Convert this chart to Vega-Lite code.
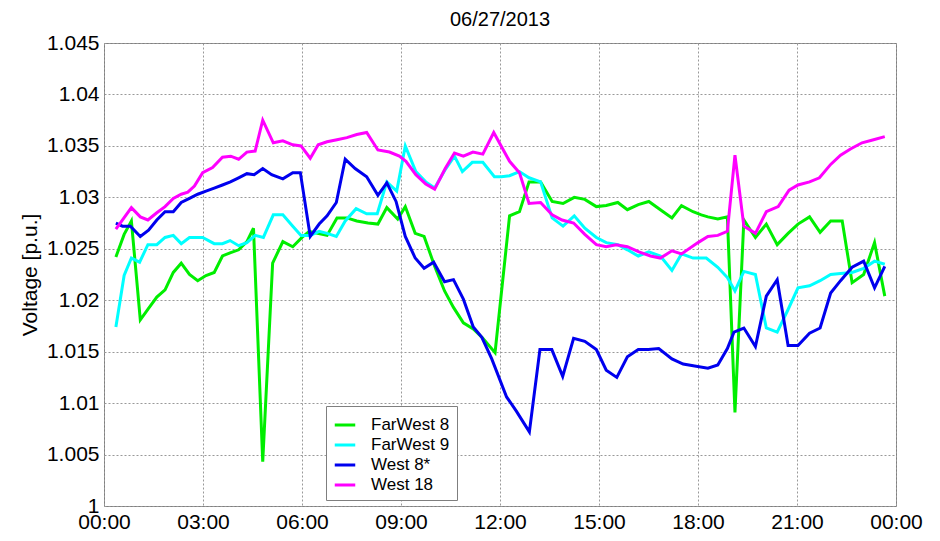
{
  "$schema": "https://vega.github.io/schema/vega-lite/v6.json",
  "width": 792,
  "height": 463,
  "autosize": {"type": "none"},
  "padding": {"left": 104, "top": 43, "right": 44, "bottom": 35},
  "background": "white",
  "title": {"text": "06/27/2013", "fontSize": 20, "font": "Liberation Sans", "fontWeight": "normal", "color": "#000", "offset": 2, "anchor": "middle"},
  "config": {
    "font": "Liberation Sans",
    "view": {"stroke": "#7f7f7f", "strokeWidth": 1}
  },
  "datasets": {
    "fw8": [{"t":0.36,"v":1.0242},{"t":0.61,"v":1.0264},{"t":0.83,"v":1.0277},{"t":1.10,"v":1.0181},{"t":1.35,"v":1.0192},{"t":1.60,"v":1.0203},{"t":1.85,"v":1.0210},{"t":2.10,"v":1.0227},{"t":2.34,"v":1.0236},{"t":2.59,"v":1.0225},{"t":2.84,"v":1.0219},{"t":3.09,"v":1.0224},{"t":3.34,"v":1.0227},{"t":3.59,"v":1.0243},{"t":3.82,"v":1.0246},{"t":4.08,"v":1.0249},{"t":4.33,"v":1.0257},{"t":4.53,"v":1.0270},{"t":4.81,"v":1.0043},{"t":5.11,"v":1.0236},{"t":5.42,"v":1.0257},{"t":5.72,"v":1.0252},{"t":6.0,"v":1.0261},{"t":6.22,"v":1.0267},{"t":6.47,"v":1.0265},{"t":6.76,"v":1.0263},{"t":7.06,"v":1.0280},{"t":7.36,"v":1.0280},{"t":7.66,"v":1.0277},{"t":8.0,"v":1.0275},{"t":8.3,"v":1.0274},{"t":8.57,"v":1.0290},{"t":8.9,"v":1.0279},{"t":9.13,"v":1.0291},{"t":9.43,"v":1.0265},{"t":9.7,"v":1.0262},{"t":10.02,"v":1.0233},{"t":10.32,"v":1.0209},{"t":10.59,"v":1.0193},{"t":10.89,"v":1.0178},{"t":11.19,"v":1.0172},{"t":11.48,"v":1.0163},{"t":11.85,"v":1.0149},{"t":12.29,"v":1.0282},{"t":12.59,"v":1.0286},{"t":12.88,"v":1.0315},{"t":13.23,"v":1.0315},{"t":13.58,"v":1.0296},{"t":13.91,"v":1.0294},{"t":14.25,"v":1.0300},{"t":14.57,"v":1.0298},{"t":14.92,"v":1.0291},{"t":15.22,"v":1.0292},{"t":15.57,"v":1.0295},{"t":15.86,"v":1.0288},{"t":16.19,"v":1.0293},{"t":16.51,"v":1.0296},{"t":16.86,"v":1.0288},{"t":17.21,"v":1.0280},{"t":17.5,"v":1.0292},{"t":17.85,"v":1.0286},{"t":18.1,"v":1.0283},{"t":18.3,"v":1.0281},{"t":18.6,"v":1.0279},{"t":18.89,"v":1.0281},{"t":19.12,"v":1.0091},{"t":19.39,"v":1.0278},{"t":19.74,"v":1.0261},{"t":20.07,"v":1.0274},{"t":20.4,"v":1.0254},{"t":20.73,"v":1.0265},{"t":21.03,"v":1.0274},{"t":21.38,"v":1.0281},{"t":21.7,"v":1.0266},{"t":22.02,"v":1.0277},{"t":22.37,"v":1.0277},{"t":22.67,"v":1.0217},{"t":23.02,"v":1.0225},{"t":23.35,"v":1.0256},{"t":23.66,"v":1.0204}],
    "fw9": [{"t":0.36,"v":1.0174},{"t":0.61,"v":1.0224},{"t":0.83,"v":1.0241},{"t":1.08,"v":1.0237},{"t":1.33,"v":1.0254},{"t":1.6,"v":1.0254},{"t":1.85,"v":1.0261},{"t":2.1,"v":1.0263},{"t":2.34,"v":1.0255},{"t":2.59,"v":1.0261},{"t":2.99,"v":1.0261},{"t":3.34,"v":1.0255},{"t":3.59,"v":1.0255},{"t":3.82,"v":1.0258},{"t":4.08,"v":1.0253},{"t":4.33,"v":1.0256},{"t":4.58,"v":1.0263},{"t":4.83,"v":1.0261},{"t":5.13,"v":1.0283},{"t":5.42,"v":1.0283},{"t":5.72,"v":1.0272},{"t":5.97,"v":1.0263},{"t":6.25,"v":1.0263},{"t":6.52,"v":1.0267},{"t":6.76,"v":1.0265},{"t":7.04,"v":1.0262},{"t":7.31,"v":1.0277},{"t":7.64,"v":1.0289},{"t":7.96,"v":1.0284},{"t":8.28,"v":1.0284},{"t":8.57,"v":1.0315},{"t":8.87,"v":1.0306},{"t":9.13,"v":1.0350},{"t":9.45,"v":1.0325},{"t":9.75,"v":1.0315},{"t":10.02,"v":1.0309},{"t":10.34,"v":1.0327},{"t":10.62,"v":1.0340},{"t":10.86,"v":1.0325},{"t":11.16,"v":1.0334},{"t":11.48,"v":1.0334},{"t":11.83,"v":1.0320},{"t":12.04,"v":1.0320},{"t":12.29,"v":1.0321},{"t":12.59,"v":1.0325},{"t":12.88,"v":1.0319},{"t":13.23,"v":1.0315},{"t":13.58,"v":1.0280},{"t":13.91,"v":1.0272},{"t":14.25,"v":1.0282},{"t":14.57,"v":1.0270},{"t":14.92,"v":1.0261},{"t":15.22,"v":1.0256},{"t":15.57,"v":1.0254},{"t":15.86,"v":1.0249},{"t":16.19,"v":1.0243},{"t":16.51,"v":1.0247},{"t":16.86,"v":1.0243},{"t":17.21,"v":1.0229},{"t":17.5,"v":1.0245},{"t":17.85,"v":1.0241},{"t":18.25,"v":1.0241},{"t":18.6,"v":1.0232},{"t":18.89,"v":1.0222},{"t":19.12,"v":1.0209},{"t":19.39,"v":1.0228},{"t":19.74,"v":1.0225},{"t":20.07,"v":1.0173},{"t":20.4,"v":1.0169},{"t":20.73,"v":1.0191},{"t":21.03,"v":1.0212},{"t":21.38,"v":1.0214},{"t":21.7,"v":1.0219},{"t":22.02,"v":1.0225},{"t":22.32,"v":1.0226},{"t":22.67,"v":1.0227},{"t":23.02,"v":1.0231},{"t":23.35,"v":1.0238},{"t":23.66,"v":1.0235}],
    "w8": [{"t":0.36,"v":1.0275},{"t":0.56,"v":1.0272},{"t":0.8,"v":1.0272},{"t":1.1,"v":1.0262},{"t":1.35,"v":1.0268},{"t":1.6,"v":1.0278},{"t":1.85,"v":1.0286},{"t":2.1,"v":1.0286},{"t":2.34,"v":1.0295},{"t":2.59,"v":1.0299},{"t":2.84,"v":1.0303},{"t":3.09,"v":1.0306},{"t":3.34,"v":1.0309},{"t":3.59,"v":1.0312},{"t":3.83,"v":1.0315},{"t":4.08,"v":1.0319},{"t":4.33,"v":1.0323},{"t":4.55,"v":1.0322},{"t":4.81,"v":1.0328},{"t":5.08,"v":1.0322},{"t":5.42,"v":1.0318},{"t":5.72,"v":1.0324},{"t":5.95,"v":1.0324},{"t":6.25,"v":1.0262},{"t":6.52,"v":1.0274},{"t":6.76,"v":1.0282},{"t":7.04,"v":1.0295},{"t":7.31,"v":1.0337},{"t":7.61,"v":1.0328},{"t":7.96,"v":1.0320},{"t":8.3,"v":1.0302},{"t":8.57,"v":1.0314},{"t":8.85,"v":1.0296},{"t":9.13,"v":1.0262},{"t":9.43,"v":1.0241},{"t":9.7,"v":1.0231},{"t":9.99,"v":1.0237},{"t":10.32,"v":1.0218},{"t":10.59,"v":1.0220},{"t":10.89,"v":1.0201},{"t":11.19,"v":1.0174},{"t":11.45,"v":1.0164},{"t":11.75,"v":1.0143},{"t":12.2,"v":1.0106},{"t":12.5,"v":1.0092},{"t":12.89,"v":1.0072},{"t":13.21,"v":1.0152},{"t":13.57,"v":1.0152},{"t":13.9,"v":1.0126},{"t":14.23,"v":1.0163},{"t":14.57,"v":1.0160},{"t":14.92,"v":1.0152},{"t":15.22,"v":1.0132},{"t":15.54,"v":1.0125},{"t":15.86,"v":1.0145},{"t":16.19,"v":1.0152},{"t":16.49,"v":1.0152},{"t":16.81,"v":1.0153},{"t":17.21,"v":1.0143},{"t":17.55,"v":1.0138},{"t":17.9,"v":1.0136},{"t":18.3,"v":1.0134},{"t":18.6,"v":1.0137},{"t":18.89,"v":1.0153},{"t":19.09,"v":1.0169},{"t":19.39,"v":1.0173},{"t":19.74,"v":1.0155},{"t":20.07,"v":1.0204},{"t":20.4,"v":1.0220},{"t":20.73,"v":1.0156},{"t":21.03,"v":1.0156},{"t":21.38,"v":1.0168},{"t":21.7,"v":1.0173},{"t":22.02,"v":1.0207},{"t":22.32,"v":1.0219},{"t":22.67,"v":1.0232},{"t":23.02,"v":1.0238},{"t":23.35,"v":1.0212},{"t":23.66,"v":1.0233}],
    "w18": [{"t":0.36,"v":1.0269},{"t":0.83,"v":1.0290},{"t":1.10,"v":1.0281},{"t":1.33,"v":1.0278},{"t":1.60,"v":1.0285},{"t":1.85,"v":1.0291},{"t":2.10,"v":1.0299},{"t":2.34,"v":1.0303},{"t":2.54,"v":1.0305},{"t":2.74,"v":1.0311},{"t":2.99,"v":1.0324},{"t":3.29,"v":1.0329},{"t":3.59,"v":1.0339},{"t":3.84,"v":1.0340},{"t":4.08,"v":1.0337},{"t":4.33,"v":1.0344},{"t":4.58,"v":1.0345},{"t":4.81,"v":1.0375},{"t":5.13,"v":1.0353},{"t":5.42,"v":1.0355},{"t":5.72,"v":1.0351},{"t":5.97,"v":1.0350},{"t":6.25,"v":1.0338},{"t":6.49,"v":1.0351},{"t":6.76,"v":1.0354},{"t":7.06,"v":1.0356},{"t":7.36,"v":1.0358},{"t":7.66,"v":1.0361},{"t":7.96,"v":1.0363},{"t":8.3,"v":1.0346},{"t":8.65,"v":1.0344},{"t":8.95,"v":1.0340},{"t":9.15,"v":1.0335},{"t":9.45,"v":1.0322},{"t":9.75,"v":1.0313},{"t":10.02,"v":1.0308},{"t":10.34,"v":1.0328},{"t":10.62,"v":1.0343},{"t":10.89,"v":1.0340},{"t":11.18,"v":1.0344},{"t":11.48,"v":1.0342},{"t":11.81,"v":1.0363},{"t":12.29,"v":1.0335},{"t":12.59,"v":1.0324},{"t":12.88,"v":1.0294},{"t":13.23,"v":1.0295},{"t":13.58,"v":1.0283},{"t":13.88,"v":1.0278},{"t":14.23,"v":1.0275},{"t":14.57,"v":1.0264},{"t":14.92,"v":1.0254},{"t":15.22,"v":1.0252},{"t":15.52,"v":1.0254},{"t":15.86,"v":1.0252},{"t":16.21,"v":1.0247},{"t":16.56,"v":1.0243},{"t":16.86,"v":1.0241},{"t":17.21,"v":1.0248},{"t":17.5,"v":1.0245},{"t":18.0,"v":1.0256},{"t":18.3,"v":1.0262},{"t":18.6,"v":1.0263},{"t":18.89,"v":1.0267},{"t":19.12,"v":1.0341},{"t":19.39,"v":1.0272},{"t":19.74,"v":1.0265},{"t":20.07,"v":1.0286},{"t":20.43,"v":1.0291},{"t":20.76,"v":1.0307},{"t":21.03,"v":1.0312},{"t":21.38,"v":1.0315},{"t":21.68,"v":1.0319},{"t":22.02,"v":1.0332},{"t":22.32,"v":1.0341},{"t":22.62,"v":1.0347},{"t":22.97,"v":1.0353},{"t":23.32,"v":1.0356},{"t":23.66,"v":1.0359}]
  },
  "encoding": {
    "x": {
      "field": "t", "type": "quantitative",
      "scale": {"domain": [0, 24], "nice": false, "zero": false},
      "axis": {
        "title": null, "values": [0, 3, 6, 9, 12, 15, 18, 21, 24],
        "labelExpr": "(datum.value < 10 || datum.value == 24 ? '0' : '') + (datum.value % 24) + ':00'",
        "labelFontSize": 21, "labelColor": "#000", "labelPadding": 5, "ticks": false, "domain": false,
        "grid": true, "gridColor": "#999999", "gridDash": [2, 2], "gridWidth": 1, "labelFlush": false
      }
    },
    "y": {
      "field": "v", "type": "quantitative",
      "scale": {"domain": [1, 1.045], "nice": false, "zero": false},
      "axis": {
        "title": "Voltage [p.u.]", "titleFontSize": 21, "titleFontWeight": "normal", "titleColor": "#000", "titlePadding": 6,
        "values": [1, 1.005, 1.01, 1.015, 1.02, 1.025, 1.03, 1.035, 1.04, 1.045],
        "format": "~g", "labelFontSize": 21, "labelColor": "#000", "labelPadding": 5, "ticks": false, "domain": false,
        "grid": true, "gridColor": "#999999", "gridDash": [2, 2], "gridWidth": 1, "labelFlush": false
      }
    },
    "color": {
      "datum": "FarWest 8", "type": "nominal",
      "scale": {"domain": ["FarWest 8", "FarWest 9", "West 8*", "West 18"], "range": ["#00ee00", "#00ffff", "#0000ee", "#ff00ff"]},
      "legend": {
        "title": null, "orient": "none", "legendX": 222, "legendY": 363,
        "symbolType": "stroke", "symbolStrokeWidth": 3, "symbolSize": 420,
        "labelFontSize": 17, "labelColor": "#000", "labelOffset": 14,
        "rowPadding": 0, "padding": 7, "strokeColor": "#7f7f7f", "fillColor": "white"
      }
    }
  },
  "layer": [
    {"data": {"name": "fw8"}, "mark": {"type": "line", "strokeWidth": 3}, "encoding": {"color": {"datum": "FarWest 8"}}},
    {"data": {"name": "fw9"}, "mark": {"type": "line", "strokeWidth": 3}, "encoding": {"color": {"datum": "FarWest 9"}}},
    {"data": {"name": "w8"}, "mark": {"type": "line", "strokeWidth": 3}, "encoding": {"color": {"datum": "West 8*"}}},
    {"data": {"name": "w18"}, "mark": {"type": "line", "strokeWidth": 3}, "encoding": {"color": {"datum": "West 18"}}}
  ]
}
